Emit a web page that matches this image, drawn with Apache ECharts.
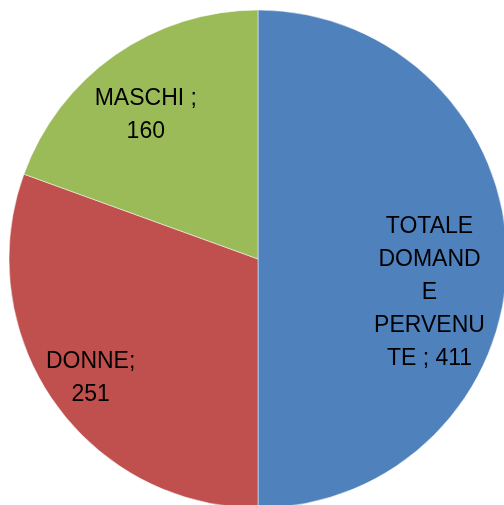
<!DOCTYPE html>
<html>
<head>
<meta charset="utf-8">
<script src="https://cdn.jsdelivr.net/npm/echarts@6/dist/echarts.min.js"></script>
<style>
html,body{margin:0;padding:0;background:#fff;}
#pieChart{width:504px;height:505px;}
</style>
</head>
<body>
<div id="pieChart"></div>
<script>
// dati
var categories = ['TOTALE DOMANDE PERVENUTE', 'DONNE', 'MASCHI'];
var values = [411, 251, 160];
// etichette come nel grafico originale (a capo)
var labelTexts = ['TOTALE\nDOMAND\nE\nPERVENU\nTE ; 411', 'DONNE;\n251', 'MASCHI ;\n160'];
var colors = ['#4F81BD', '#C0504D', '#9BBB59'];
var labelOffsets = [[44, 34], [-63, 46], [-39, -39]];

window.onload = function(){
	initPage();
};

function initPage(){
	var seriesData = [];
	for(var i=0;i<categories.length;i++){
		seriesData[i] = {};
		seriesData[i].name = categories[i];
		seriesData[i].value = values[i];
		seriesData[i].label = { offset: labelOffsets[i] };
	}

	var myChart = echarts.init(document.getElementById("pieChart"));
	var option = {
		animation: false,
		color: colors,
		series: [
			{
				type: 'pie',
				center: [258, 259],
				radius: 249,
				startAngle: 90,
				clockwise: true,
				data: seriesData,
				itemStyle: {
					borderColor: '#ffffff',
					borderWidth: 0.5
				},
				label: {
					show: true,
					position: 'inside',
					color: '#000',
					fontFamily: 'Liberation Sans',
					fontSize: 23,
					lineHeight: 33,
					align: 'center',
					formatter: function(params){
						return labelTexts[params.dataIndex];
					}
				},
				labelLine: { show: false }
			}
		]
	};
	myChart.setOption(option);
}
</script>
</body>
</html>
